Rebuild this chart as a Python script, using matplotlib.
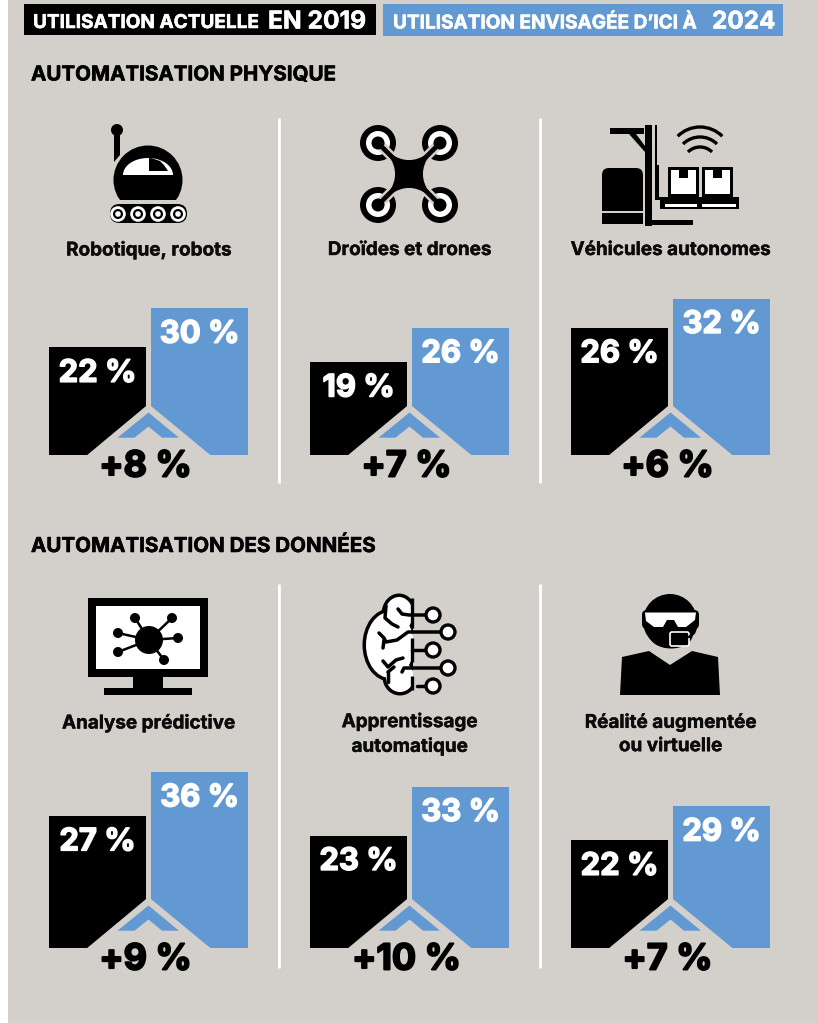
import numpy as np
import matplotlib
matplotlib.use("Agg")
import matplotlib.pyplot as plt
import matplotlib.patheffects as pe
from matplotlib.patches import Rectangle, Circle, Polygon, FancyBboxPatch, Ellipse, Arc, PathPatch
from matplotlib.path import Path

W, H = 817, 1023
BG = "#d3d0cb"; BLUE = "#6399d3"; BLACK = "#000000"
FONT = ["Inter", "DejaVu Sans"]

categories = ["Robotique, robots", "Droïdes et drones", "Véhicules autonomes",
              "Analyse prédictive", "Apprentissage\nautomatique", "Réalité augmentée\nou virtuelle"]
values_2019 = [22, 19, 26, 27, 23, 22]
values_2024 = [30, 26, 32, 36, 33, 29]
gains = [8, 7, 6, 9, 10, 7]
series_names = ["UTILISATION ACTUELLE ", "EN 2019", "UTILISATION ENVISAGÉE D’ICI À ", "2024"]
sections = ["AUTOMATISATION PHYSIQUE", "AUTOMATISATION DES DONNÉES"]

PX_PER_PCT = 4.89
panel_left = [49, 310, 571] * 2
panel_base = [455] * 3 + [948] * 3
title_y = [250] * 3 + [723, 734, 734]

def fat(w, c):
    return [pe.withStroke(linewidth=w, foreground=c)]

fig = plt.figure(figsize=(W / 100, H / 100), dpi=100, facecolor="white")
bgax = fig.add_axes([0, 0, 1, 1], zorder=0)
bgax.set_xlim(0, W); bgax.set_ylim(H, 0); bgax.axis("off")
bgax.add_patch(Rectangle((8, 0), W - 8, H, fc=BG, ec="none"))

for i in range(6):
    left, base = panel_left[i], panel_base[i]
    pw, ph = 199, 40 * PX_PER_PCT
    ax = fig.add_axes([left / W, (H - base) / H, pw / W, ph / H], zorder=1)
    ax.patch.set_alpha(0); ax.axis("off")
    ax.set_ylim(0, 40); ax.set_xlim(-48.5 / 102, 150.5 / 102)
    ax.bar([0, 1], [values_2019[i], values_2024[i]], width=97 / 102, color=[BLACK, BLUE])
    for x, v in zip([0, 1], [values_2019[i], values_2024[i]]):
        ax.annotate(f"{v} %", (x, v), xytext=(0, -19), textcoords="offset points", ha="center", va="center",
                    color="white", fontsize=22.3, fontweight="bold", family=FONT, path_effects=fat(1.1, "white"))

ov = fig.add_axes([0, 0, 1, 1], zorder=2)
ov.set_xlim(0, W); ov.set_ylim(H, 0); ov.axis("off"); ov.patch.set_alpha(0)

for i in range(6):
    l, b = panel_left[i], panel_base[i]
    ox = l - 49; oy = b - 455
    P = lambda pts: [(x + ox, y + oy) for x, y in pts]
    ov.add_patch(Polygon(P([(86, 456), (148.5, 404), (211.5, 456)]), fc=BG, ec="none"))
    ov.add_patch(Polygon(P([(117.5, 437.7), (148.5, 412.5), (179, 437.7), (162, 437.7), (148.5, 426.5), (134.5, 437.7)]), fc=BLUE, ec="none"))
    ov.text(l + 96.5, b + 12, f"+{gains[i]} %", ha="center", va="center", fontsize=25.8, fontweight="bold", color=BLACK,
            family=FONT, path_effects=fat(1.4, BLACK))
    ov.text(l + 99.5, title_y[i], categories[i], ha="center", va="center", fontsize=13.6, fontweight="bold", color="#0b0b0b",
            family=FONT, linespacing=1.38, path_effects=fat(0.3, "#0b0b0b"))

# header
ov.add_patch(Rectangle((24, 4), 352, 31, fc=BLACK, ec="none"))
ov.add_patch(Rectangle((383, 4), 400, 32, fc=BLUE, ec="none"))
kw = dict(color="white", fontweight="bold", va="center", family=FONT, path_effects=fat(0.4, "white"))
ov.text(33, 23, series_names[0], fontsize=13.7, **kw)
ov.text(268, 22, series_names[1], fontsize=17.7, **kw)
ov.text(393, 23, series_names[2], fontsize=13.7, **kw)
ov.text(712, 22, series_names[3], fontsize=17.5, **kw)
ov.text(31, 75.5, sections[0], color=BLACK, fontsize=14.8, fontweight="bold", va="center", family=FONT, path_effects=fat(0.4, BLACK))
ov.text(31, 546.5, sections[1], color=BLACK, fontsize=14.8, fontweight="bold", va="center", family=FONT, path_effects=fat(0.4, BLACK))

for x in (279, 540):
    ov.plot([x, x], [118, 483], color="white", lw=2.0, solid_capstyle="butt")
    ov.plot([x, x], [584, 968], color="white", lw=2.0, solid_capstyle="butt")

def circ(x, y, r, fc=BLACK, **k):
    ov.add_patch(Circle((x, y), r, fc=fc, ec="none", **k))
def rect(x0, y0, x1, y1, fc=BLACK):
    ov.add_patch(Rectangle((x0, y0), x1 - x0, y1 - y0, fc=fc, ec="none"))
def line(pts, lw=2, c=BLACK, cap="round"):
    xs, ys = zip(*pts)
    ov.plot(xs, ys, color=c, lw=lw, solid_capstyle=cap, solid_joinstyle="round")

# robot
circ(117, 130, 6)
ov.add_patch(Polygon([(114, 130), (120, 130), (120, 155), (114, 162)], fc=BLACK, ec="none"))
ov.add_patch(Circle((148, 180), 34.5, fc=BLACK, ec="none"))
rect(105, 200, 190, 216, BG)
th = np.radians(np.linspace(180, 360, 40))
ov.add_patch(Polygon([(148 + 25 * np.cos(t), 175 + 17 * np.sin(t)) for t in th], fc="white", ec="none"))
ov.add_patch(Polygon([(149, 158), (152, 158.3), (160, 161), (164, 165), (168, 171), (149, 171)], fc=BLACK, ec="none"))
ov.add_patch(FancyBboxPatch((110, 204), 77, 19, boxstyle="round,pad=0,rounding_size=9.5", fc=BLACK, ec="none"))
for x in (118, 138, 158, 178):
    circ(x, 214, 7.8, "white"); circ(x, 214, 5, BLACK); circ(x, 214, 2.8, "white")

# drone
dc = (409, 174)
for rx, ry in [(378, 143), (440, 143), (378, 205), (440, 205)]:
    circ(rx, ry, 18); circ(rx, ry, 12, "white")
    line([dc, (rx, ry)], lw=7, c=BG, cap="butt")
    line([dc, (rx, ry)], lw=3.4, c=BLACK)
    circ(rx, ry, 6.5, zorder=3)
verts = [(390, 155), (409, 168), (428, 155), (415, 174), (428, 193), (409, 180), (390, 193), (403, 174), (390, 155)]
codes = [Path.MOVETO] + [Path.CURVE3] * 8
ov.add_patch(PathPatch(Path(verts, codes), fc=BLACK, ec=BLACK, lw=2, zorder=3))

# forklift
rect(645, 125, 652, 226); rect(655, 125, 657.5, 165); rect(655, 165, 659, 198)
rect(610, 128, 644, 134)
ov.add_patch(Polygon([(629, 134), (636, 134), (645, 146), (645, 152)], fc=BLACK, ec="none"))
ov.add_patch(FancyBboxPatch((602, 168), 41, 30, boxstyle="round,pad=0,rounding_size=7", fc=BLACK, ec="none"))
rect(602, 180, 643, 211)
rect(602, 213, 643, 224); rect(652, 220, 693, 225)
rect(655, 197, 739, 200)
rect(660, 199, 739, 209); rect(665, 204, 697, 207, "white"); rect(702, 204, 736, 207, "white")
for x0 in (668, 702):
    rect(x0, 167, x0 + 31, 197); rect(x0 + 3, 170, x0 + 28, 194, "white")
    rect(x0 + 11, 170, x0 + 20, 178)
for cy, r in [(164, 17), (161, 24), (158.5, 31.5)]:
    ov.add_patch(Arc((700, cy), 2 * r, 2 * r, theta1=225, theta2=315, color=BLACK, lw=2.4))

# monitor
rect(88, 598, 208, 677); rect(96, 606, 200, 669, "white"); rect(133, 677, 163, 689); rect(104, 688, 192, 695)
mc = (149, 640)
for n in [(135, 618), (172, 618), (118, 633), (178, 638), (118, 652), (164, 660)]:
    line([mc, n], lw=1.8); circ(*n, 5, zorder=3)
circ(*mc, 14, zorder=3)

# brain
lobes = [(399, 614, 28, 34), (390, 645, 48, 66), (400, 677, 28, 30)]
for x, y, w, h in lobes:
    ov.add_patch(Ellipse((x, y), w + 7, h + 7, fc=BLACK, ec="none"))
for x, y, w, h in lobes:
    ov.add_patch(Ellipse((x, y), w, h, fc="white", ec="none"))
rect(413.5, 590, 430, 700, BG)
line([(412, 598), (412, 628)], lw=2.4, cap="butt")
line([(412, 638), (412, 662)], lw=2.4, cap="butt")
line([(412, 676), (412, 690)], lw=2.4, cap="butt")
LW = 2.5
line([(398, 609), (402, 614), (409, 615), (427, 615)], lw=LW)
line([(379, 633), (384, 638), (386, 642), (397, 640), (408, 632), (442, 632)], lw=LW)
line([(383, 648), (384, 640)], lw=LW)
line([(412, 650), (427, 650)], lw=LW)
line([(383, 661), (388, 667), (396, 660), (403, 658)], lw=LW)
line([(402, 672), (404, 668), (442, 668)], lw=LW)
line([(417, 686), (427, 686)], lw=LW)
line([(386, 606), (385, 618), (392, 624), (398, 627)], lw=LW)
line([(388, 672), (388, 682)], lw=LW)
line([(388, 672), (394, 667)], lw=LW)
for x, y in [(433, 615), (448, 632), (433, 650), (448, 668), (433, 686)]:
    ov.add_patch(Circle((x, y), 7, fc="white", ec=BLACK, lw=2.4, zorder=3))

# person
ov.add_patch(Ellipse((670, 621), 54, 54, fc=BLACK, ec="none"))
ov.add_patch(Ellipse((671, 634), 44, 29, fc=BLACK, ec="none"))
ov.add_patch(Polygon([(622, 657), (649, 651), (670, 665), (692, 651), (718, 657), (720, 695), (620, 695)], fc=BLACK, ec="none"))
ov.add_patch(FancyBboxPatch((642, 610), 57, 19, boxstyle="round,pad=0,rounding_size=5", fc=BLACK, ec="none"))
ov.add_patch(Polygon([(645, 612.5), (696, 612.5), (695, 620), (686, 627), (678, 627), (674, 620), (667, 620), (663, 627), (654, 627), (646, 621)],
                     fc="white", ec="none"))
line([(697, 625), (694, 633), (689, 637)], lw=1.8)
ov.add_patch(FancyBboxPatch((670, 632), 19, 14, boxstyle="round,pad=0,rounding_size=2", fc=BLACK, ec="white", lw=1.2))

fig.savefig("out.png", dpi=100, facecolor="white")
